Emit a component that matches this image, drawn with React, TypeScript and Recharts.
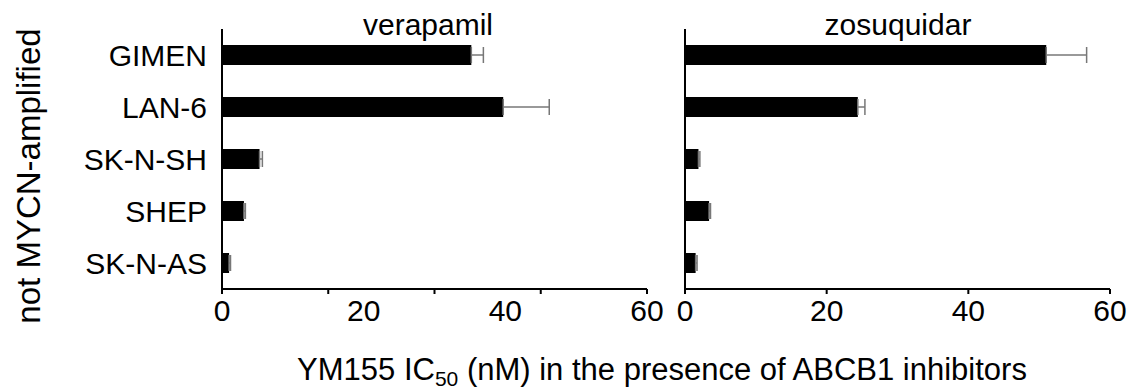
import { BarChart, Bar, XAxis, YAxis, ErrorBar } from 'recharts'

const cellLines = ['GIMEN', 'LAN-6', 'SK-N-SH', 'SHEP', 'SK-N-AS']
const verapamilIC50 = [35.2, 39.7, 5.3, 3.1, 1.0]
const verapamilErr = [1.7, 6.5, 0.4, 0.2, 0.2]
const zosuquidarIC50 = [51.0, 24.4, 1.9, 3.4, 1.5]
const zosuquidarErr = [5.7, 1.0, 0.2, 0.2, 0.2]
const leftTicks = [0, 15, 20, 30, 40, 45, 60]
const rightTicks = [0, 20, 40, 60]

const FONT = '"Liberation Sans", Arial, Helvetica, sans-serif'

const build = (vals: number[], errs: number[]) =>
  cellLines.map((name, i) => ({ name, value: vals[i], err: [0, errs[i]] }))

const verapamilData = build(verapamilIC50, verapamilErr)
const zosuquidarData = build(zosuquidarIC50, zosuquidarErr)

// tick marks and labels don't line up on the left panel, so draw both ourselves
const makeTick = (markStep: number, labelStep: number) => (props: any) => {
  const { x, y, payload } = props
  const v = payload.value
  return (
    <g>
      {v % markStep === 0 && <line x1={x} x2={x} y1={y} y2={y + 5} stroke="#000" strokeWidth={2} />}
      {v % labelStep === 0 && (
        <text x={x} y={y + 32} textAnchor="middle" fontSize={30} fill="#000" fontFamily={FONT}>{v}</text>
      )}
    </g>
  )
}

const axisLine = { stroke: '#000', strokeWidth: 2 }

export default function App() {
  return (
    <div style={{ position: 'relative', width: 1130, height: 392, background: '#fff', fontFamily: FONT }}>
      <style>{`body{margin:0}`}</style>

      <div style={{ position: 'absolute', left: 0, top: 0 }}>
        <BarChart width={670} height={392} data={verapamilData} layout="vertical"
          margin={{ top: 29, right: 23, bottom: 43, left: 0 }}>
          <XAxis type="number" domain={[0, 60]} ticks={leftTicks} interval={0} height={60}
            axisLine={axisLine} tickLine={false} tickSize={0} tickMargin={0} tick={makeTick(15, 20)} />
          <YAxis type="category" dataKey="name" width={222} axisLine={axisLine} tickLine={false}
            tickSize={0} tickMargin={15} tick={{ fontSize: 30, fill: '#000', fontFamily: FONT }} />
          <Bar dataKey="value" fill="#000" barSize={20} isAnimationActive={false}>
            <ErrorBar dataKey="err" direction="x" width={8} stroke="#777" strokeWidth={1.5} isAnimationActive={false} />
          </Bar>
        </BarChart>
      </div>

      <div style={{ position: 'absolute', left: 670, top: 0 }}>
        <BarChart width={460} height={392} data={zosuquidarData} layout="vertical"
          margin={{ top: 29, right: 20, bottom: 43, left: 0 }}>
          <XAxis type="number" domain={[0, 60]} ticks={rightTicks} interval={0} height={60}
            axisLine={axisLine} tickLine={false} tickSize={0} tickMargin={0} tick={makeTick(20, 20)} />
          <YAxis type="category" dataKey="name" width={15} axisLine={axisLine} tickLine={false} tick={false} />
          <Bar dataKey="value" fill="#000" barSize={20} isAnimationActive={false}>
            <ErrorBar dataKey="err" direction="x" width={8} stroke="#777" strokeWidth={1.5} isAnimationActive={false} />
          </Bar>
        </BarChart>
      </div>

      <svg width={1130} height={392} style={{ position: 'absolute', left: 0, top: 0, pointerEvents: 'none' }}
        fontFamily={FONT} fill="#000">
        <text x={428} y={35} textAnchor="middle" fontSize={30}>verapamil</text>
        <text x={898} y={35} textAnchor="middle" fontSize={30}>zosuquidar</text>
        <text transform="translate(40,176) rotate(-90)" textAnchor="middle" fontSize={33}>not MYCN-amplified</text>
        <text x={662} y={380} textAnchor="middle" fontSize={31}>
          YM155 IC<tspan fontSize={21} dy={6}>50</tspan><tspan dy={-6}> (nM) in the presence of ABCB1 inhibitors</tspan>
        </text>
      </svg>
    </div>
  )
}
